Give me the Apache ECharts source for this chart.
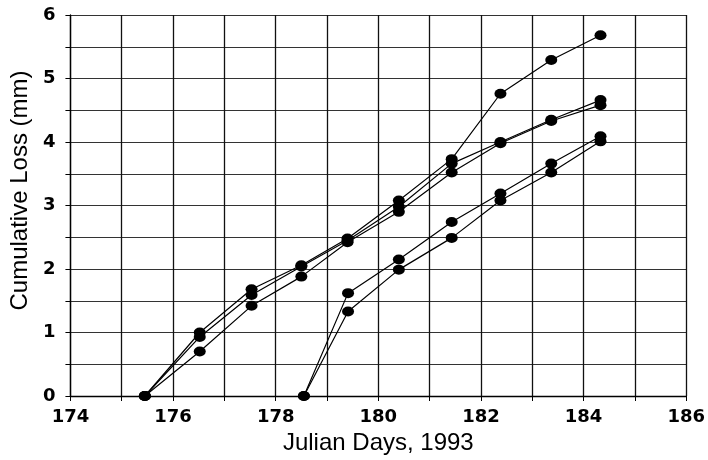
<!DOCTYPE html>
<html>
<head>
<meta charset="utf-8">
<script src="https://cdn.jsdelivr.net/npm/echarts@6/dist/echarts.min.js"></script>
<style>
html,body{margin:0;padding:0;background:#fff;}
#chart{width:708px;height:460px;}
</style>
</head>
<body>
<div id="chart"></div>
<script>
// Days for the three plots starting on day 175.5
const daysA = [175.45, 176.52, 177.53, 178.5, 179.4, 180.4, 181.43, 182.38, 183.37, 184.33];
const lossA1 = [0, 1.0, 1.68, 2.06, 2.48, 3.08, 3.73, 4.76, 5.29, 5.68];
const lossA2 = [0, 0.93, 1.59, 2.04, 2.45, 2.98, 3.66, 4.0, 4.35, 4.66];
const lossA3 = [0, 0.7, 1.42, 1.88, 2.42, 2.90, 3.52, 3.98, 4.33, 4.58];
// Days for the two plots starting on day 178.5
const daysB = [178.55, 179.41, 180.4, 181.43, 182.38, 183.37, 184.33];
const lossB1 = [0, 1.62, 2.15, 2.74, 3.19, 3.66, 4.09];
const lossB2 = [0, 1.33, 1.99, 2.49, 3.08, 3.52, 4.01];

const xTitle = 'Julian Days, 1993';
const yTitle = 'Cumulative Loss (mm)';

function pairs(xs, ys) { return xs.map((x, i) => [x, ys[i]]); }

const font = '"Liberation Sans", Arial, Helvetica, sans-serif';
const tickFont = '"DejaVu Sans", "Liberation Sans", Arial, sans-serif';

function mkSeries(xs, ys) {
  return {
    type: 'line',
    data: pairs(xs, ys),
    symbol: 'circle',
    symbolSize: [12, 10],
    showSymbol: true,
    itemStyle: { color: '#000' },
    lineStyle: { color: '#000', width: 1.2 },
    animation: false,
    z: 5
  };
}

const chart = echarts.init(document.getElementById('chart'), null, { renderer: 'canvas' });
chart.setOption({
  backgroundColor: '#fff',
  animation: false,
  grid: { left: 63, right: 17, top: 15, bottom: 64 },
  xAxis: {
    type: 'value',
    min: 174, max: 186, interval: 1,
    name: xTitle,
    nameLocation: 'middle',
    nameGap: 35,
    nameTextStyle: { fontFamily: font, fontSize: 24, color: '#000' },
    axisLine: { show: true, lineStyle: { color: '#000', width: 1.3 } },
    axisTick: { show: true, inside: false, length: 5, lineStyle: { color: '#000' } },
    axisLabel: {
      margin: 12,
      fontFamily: tickFont, fontSize: 18, fontWeight: 'bold', color: '#000',
      formatter: v => (Math.round(v) % 2 === 0 ? String(Math.round(v)) : '')
    },
    splitLine: { show: true, lineStyle: { color: '#111', width: 1.3 } }
  },
  yAxis: {
    type: 'value',
    min: 0, max: 6, interval: 0.5,
    name: yTitle,
    nameLocation: 'middle',
    nameGap: 34,
    nameRotate: 90,
    nameTextStyle: { fontFamily: font, fontSize: 24, color: '#000', padding: [0, 0, 0, 30] },
    axisLine: { show: true, lineStyle: { color: '#000', width: 1.3 } },
    axisTick: { show: true, inside: false, length: 5, lineStyle: { color: '#000' } },
    axisLabel: {
      margin: 15,
      fontFamily: tickFont, fontSize: 18, fontWeight: 'bold', color: '#000',
      formatter: v => (Math.abs(v - Math.round(v)) < 1e-6 ? String(Math.round(v)) : '')
    },
    splitLine: { show: true, lineStyle: { color: '#333', width: 1 } }
  },
  series: [
    mkSeries(daysA, lossA1),
    mkSeries(daysA, lossA2),
    mkSeries(daysA, lossA3),
    mkSeries(daysB, lossB1),
    mkSeries(daysB, lossB2)
  ]
});
</script>
</body>
</html>
